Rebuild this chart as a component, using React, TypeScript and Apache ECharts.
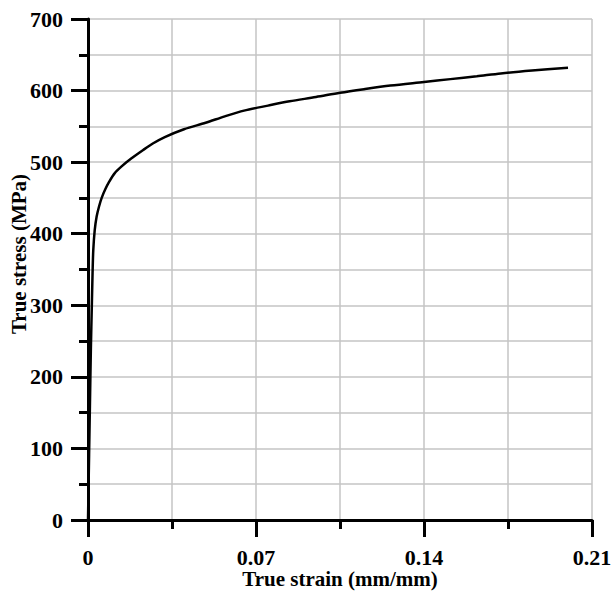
import React, { useEffect, useRef } from "react";
import * as echarts from "echarts";

const strain = [0, 0.0008, 0.0012, 0.0016, 0.0019, 0.0022, 0.0028, 0.0036, 0.0046, 0.0057, 0.0072, 0.0089, 0.011, 0.014, 0.018, 0.023, 0.027, 0.032, 0.04, 0.049, 0.057, 0.065, 0.075, 0.084, 0.095, 0.105, 0.115, 0.126, 0.14, 0.151, 0.162, 0.172, 0.185, 0.2];
const stress = [0, 160, 240, 300, 345, 377, 405, 424, 438, 450, 462, 473, 484, 494, 505, 517, 526, 535, 546, 555, 564, 572, 579, 585, 591, 597, 602, 607, 612, 616, 620, 624, 628, 632];

const xTicks = [0, 0.07, 0.14, 0.21];
const yMax = 700;
const xTitle = "True strain (mm/mm)";
const yTitle = "True stress (MPa)";

export default function App() {
  const ref = useRef<HTMLDivElement>(null);
  useEffect(() => {
    if (!ref.current) return;
    const chart = echarts.init(ref.current, undefined, { renderer: "svg" });
    const font = "'Liberation Serif', 'Times New Roman', serif";
    const axisCommon = {
      axisLine: { show: true, onZero: false, lineStyle: { color: "#000", width: 3 } },
      axisTick: { show: true, inside: false, length: 17, lineStyle: { color: "#000", width: 3 } },
      minorTick: { show: true, splitNumber: 2, length: 9, lineStyle: { color: "#000", width: 3 } },
      splitLine: { show: true, lineStyle: { color: "#c4c4c4", width: 1.5 } },
      minorSplitLine: { show: true, lineStyle: { color: "#c4c4c4", width: 1.5 } },
    };
    const titleStyle = {
      fill: "#000",
      fontFamily: font,
      fontWeight: "bold",
      fontSize: 21,
      align: "center",
      verticalAlign: "middle",
    };
    chart.setOption({
      animation: false,
      backgroundColor: "#fff",
      grid: { left: 88, right: 19, top: 19, bottom: 72, containLabel: false, outerBoundsMode: "none" },
      graphic: [
        { type: "text", x: 340, y: 579, style: { ...titleStyle, text: xTitle } },
        { type: "text", x: 19, y: 254, rotation: Math.PI / 2, style: { ...titleStyle, text: yTitle } },
      ],
      xAxis: {
        type: "value",
        min: 0,
        max: xTicks[xTicks.length - 1],
        interval: 0.07,
        ...axisCommon,
        axisLabel: {
          color: "#000",
          fontFamily: font,
          fontWeight: "bold",
          fontSize: 22,
          margin: 26,
          formatter: (v: number) => (v === 0 ? "0" : v.toFixed(2)),
        },
      },
      yAxis: {
        type: "value",
        min: 0,
        max: yMax,
        interval: 100,
        ...axisCommon,
        axisLabel: {
          color: "#000",
          fontFamily: font,
          fontWeight: "bold",
          fontSize: 22,
          margin: 25,
        },
      },
      series: [
        {
          type: "line",
          data: strain.map((s, i) => [s, stress[i]]),
          showSymbol: false,
          symbol: "none",
          smooth: 0.3,
          lineStyle: { color: "#000", width: 2.5 },
          z: 5,
        },
      ],
    });
    return () => chart.dispose();
  }, []);
  return <div ref={ref} style={{ width: 611, height: 592, position: "absolute", left: 0, top: 0 }} />;
}
